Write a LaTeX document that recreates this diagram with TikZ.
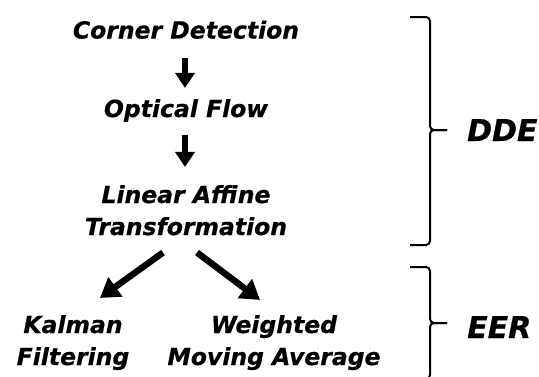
\documentclass[tikz,border=0pt]{standalone}
\usepackage{fontspec}
\setmainfont{DejaVu Sans}[BoldItalicFeatures={FakeBold=0.6}]
\usetikzlibrary{arrows.meta,positioning,calc}

\begin{document}
\begin{tikzpicture}[
  x=1pt, y=-1pt,
  font=\bfseries\itshape\fontsize{23.5}{32}\selectfont,
  stage/.style={align=center, inner sep=0pt, anchor=base},
  tag/.style={font=\bfseries\itshape\fontsize{30}{36}\selectfont, inner sep=0pt, anchor=base west},
  flowarrow/.style={-{Triangle[width=19pt,length=15pt]}, line width=6pt},
  splitarrow/.style={-{Triangle[width=23pt,length=19pt]}, line width=6.5pt},
  bracket/.style={line width=2pt, rounded corners=4pt}
]
\useasboundingbox (0,0) rectangle (539,376);

% Pipeline stages
\node[stage] (corner) at (186,38.5) {Corner Detection};
\node[stage] (flow) at (186,117) {Optical Flow};
\node[stage] (affine) at (186,235) {Linear Affine\\Transformation};
\node[stage] (kalman) at (73,365) {Kalman\\Filtering};
\node[stage] (wma) at (274,365) {Weighted\\Moving Average};

% Connections
\draw[flowarrow, shorten <=18.5pt, shorten >=11pt] ([xshift=-1pt]corner.south) -- ([xshift=-1pt]flow.north);
\draw[flowarrow, shorten <=12.5pt, shorten >=18pt] ([xshift=-1pt]flow.south) -- ([xshift=-1pt]affine.north);
\draw[splitarrow] ([shift={(-23,17)}]affine.south) -- ([shift={(27,-17)}]kalman.north);
\draw[splitarrow] ([shift={(11,17)}]affine.south) -- ([shift={(-14,-15)}]wma.north);

% Braces
\draw[bracket] (410,17) -- (430,17) -- (430,130) -- (447,130);
\draw[bracket] (410,245) -- (430,245) -- (430,130) -- (447,130);
\draw[bracket] (410,267) -- (430,267) -- (430,323) -- (447,323);
\draw[bracket] (410,379) -- (430,379) -- (430,323) -- (447,323);

\node[tag] (dde) at (467,141) {DDE};
\node[tag] (eer) at (467,338) {EER};
\end{tikzpicture}
\end{document}
